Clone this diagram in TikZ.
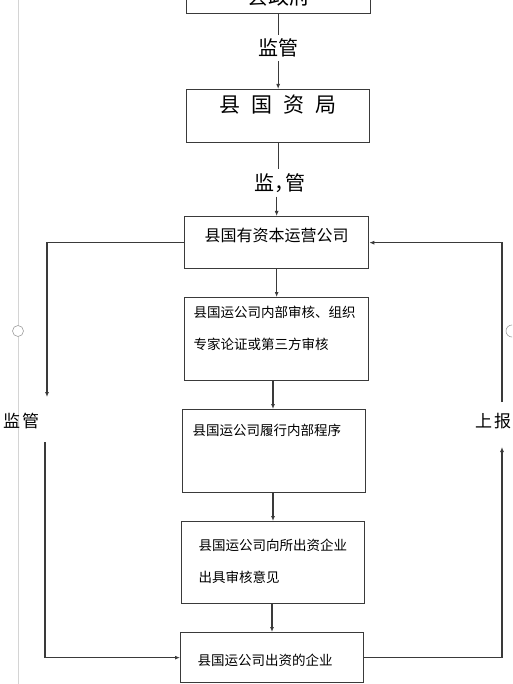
\documentclass[tikz,border=0pt]{standalone}
\usepackage{fontspec}
\setmainfont{Noto Sans CJK SC}
\usetikzlibrary{arrows.meta}
\definecolor{linec}{HTML}{3A3A3A}
\definecolor{edgec}{HTML}{D4D4D4}
\tikzset{
  flow/.style={draw=linec, line width=1.3pt, inner sep=0pt, fill=white, anchor=north west},
  arr/.style={draw=linec, line width=1.1pt, -{Latex[length=5pt,width=4pt]}},
  ln/.style={draw=linec, line width=1.1pt},
  biglab/.style={inner sep=4pt, font=\fontsize{20}{20}\selectfont},
  sidelab/.style={inner sep=0pt, anchor=west, font=\fontsize{17}{17}\selectfont},
  handle/.style={draw=gray!75, fill=white, line width=0.6pt}
}
% #1 height, #2 width, #3 top pad, #4 left pad, #5 text
\newcommand\tbox[5]{\parbox[c][#1pt][t]{#2pt}{\vspace*{#3pt}\leftskip=#4pt\relax #5\par}}
\begin{document}
\begin{tikzpicture}[x=1pt,y=-1pt]
\useasboundingbox (0,0) rectangle (512,684);
\clip (0,0) rectangle (512,684);
\fill[white] (0,0) rectangle (512,684);
\draw[edgec, line width=0.8pt] (18,0) -- (18,684);

% boxes
\node[flow] (b1) at (186,-40) {\tbox{53}{184}{26}{0}{\centering\fontsize{21}{21}\selectfont 县政府}};
\node[flow] (b2) at (186,89) {\tbox{53}{183}{5}{0}{\centering\fontsize{21}{21}\selectfont 县\hspace{11pt}国\hspace{11pt}资\hspace{11pt}局}};
\node[flow] (b3) at (184,216) {\tbox{52}{184}{11}{0}{\centering\fontsize{16}{16}\selectfont 县国有资本运营公司}};
\node[flow] (b4) at (184,297) {\tbox{83}{184}{8}{9}{\fontsize{13.5}{32}\selectfont 县国运公司内部审核、组织\\专家论证或第三方审核}};
\node[flow] (b5) at (182,409) {\tbox{83}{183}{14}{10}{\fontsize{13.5}{32}\selectfont 县国运公司履行内部程序}};
\node[flow] (b6) at (181,521) {\tbox{82}{183}{17}{17}{\fontsize{13.5}{32}\selectfont 县国运公司向所出资企业\\出具审核意见}};
\node[flow] (b7) at (180,632) {\tbox{50}{183}{21}{17}{\fontsize{13.5}{32}\selectfont 县国运公司出资的企业}};

% labels
\node[biglab] (l1) at (278,48) {监管};
\node[biglab] (l2) at (280,183) {监，\kern-9pt管};
\node[sidelab] (lm) at (3,421) {监\kern2pt管};
\node[sidelab] (rm) at (475,421) {上\kern2pt报};

% vertical chain
\draw[ln] (b1.south) -- (b1.south |- l1.north);
\draw[arr] (b2.north |- l1.south) -- (b2.north);
\draw[ln] (b2.south) -- (b2.south |- l2.north);
\draw[arr] (b3.north |- l2.south) -- (b3.north);
\draw[arr] (b3.south) -- (b3.south |- b4.north);
\draw[arr] (b4.south -| 273,0) -- (b5.north -| 273,0);
\draw[arr] (b5.south -| 273,0) -- (b6.north -| 273,0);
\draw[arr] (b6.south -| 272,0) -- (b7.north -| 272,0);

% left loop (supervision)
\coordinate (la) at (47,397);
\coordinate (lb) at (45,442);
\draw[arr] (b3.west) -| (la);
\draw[arr] (lb) |- (b7.west);

% right loop (report)
\coordinate (ra) at (502,447);
\coordinate (rb) at (502,402);
\draw[arr] (b7.east) -| (ra);
\draw[arr] (rb) |- (b3.east);

% window handles
\draw[handle] (18,331) circle (5.5);
\draw[handle] (512,331) circle (6);
\end{tikzpicture}
\end{document}
